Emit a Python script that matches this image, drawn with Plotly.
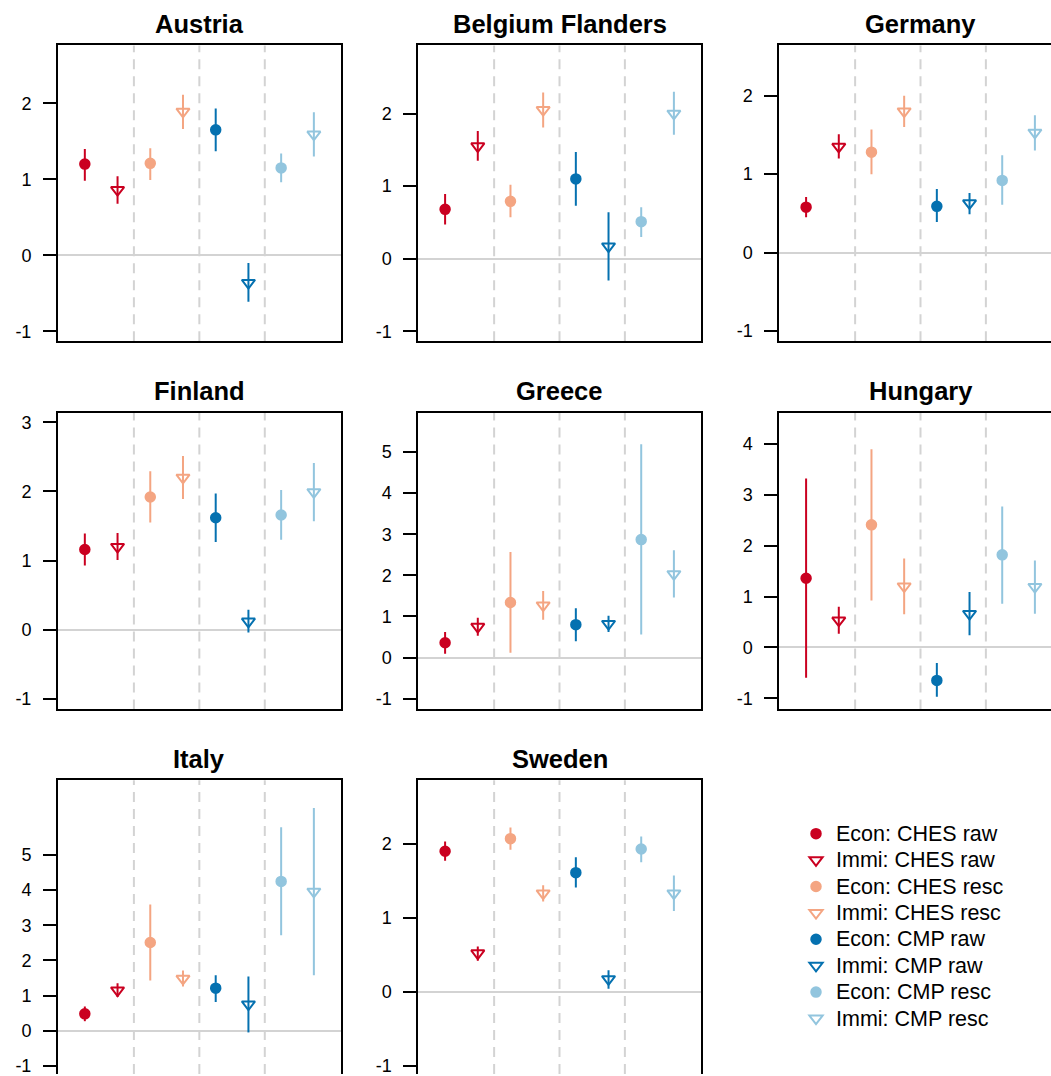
import plotly.graph_objects as go

# ---------------- data ----------------
countries = ["Austria", "Belgium Flanders", "Germany", "Finland", "Greece",
             "Hungary", "Italy", "Sweden"]
series_names = ["Econ: CHES raw", "Immi: CHES raw", "Econ: CHES resc", "Immi: CHES resc",
                "Econ: CMP raw", "Immi: CMP raw", "Econ: CMP resc", "Immi: CMP resc"]
series_pos = [1, 2, 3, 4, 5, 6, 7, 8]

austria_est = [1.20, 0.86, 1.21, 1.89, 1.65, -0.36, 1.15, 1.59]
austria_lo = [0.98, 0.68, 0.99, 1.66, 1.37, -0.61, 0.96, 1.30]
austria_hi = [1.40, 1.04, 1.41, 2.11, 1.93, -0.10, 1.34, 1.88]

belgium_est = [0.68, 1.55, 0.79, 2.05, 1.10, 0.17, 0.51, 2.00]
belgium_lo = [0.47, 1.35, 0.57, 1.81, 0.73, -0.30, 0.30, 1.71]
belgium_hi = [0.89, 1.76, 1.02, 2.29, 1.47, 0.64, 0.71, 2.30]

germany_est = [0.58, 1.35, 1.28, 1.80, 0.59, 0.63, 0.92, 1.53]
germany_lo = [0.45, 1.20, 1.00, 1.60, 0.39, 0.49, 0.61, 1.30]
germany_hi = [0.71, 1.51, 1.57, 2.00, 0.81, 0.76, 1.24, 1.75]

finland_est = [1.16, 1.20, 1.92, 2.20, 1.62, 0.12, 1.66, 1.99]
finland_lo = [0.93, 1.01, 1.55, 1.89, 1.27, -0.04, 1.30, 1.57]
finland_hi = [1.39, 1.40, 2.29, 2.51, 1.97, 0.29, 2.02, 2.41]

greece_est = [0.36, 0.75, 1.34, 1.27, 0.80, 0.82, 2.87, 2.03]
greece_lo = [0.09, 0.53, 0.12, 0.92, 0.40, 0.62, 0.56, 1.46]
greece_hi = [0.62, 0.97, 2.57, 1.62, 1.20, 1.02, 5.19, 2.61]

hungary_est = [1.36, 0.53, 2.41, 1.20, -0.65, 0.66, 1.82, 1.19]
hungary_lo = [-0.60, 0.27, 0.92, 0.65, -0.97, 0.24, 0.86, 0.66]
hungary_hi = [3.32, 0.80, 3.90, 1.75, -0.31, 1.09, 2.77, 1.71]

italy_est = [0.48, 1.15, 2.51, 1.48, 1.21, 0.75, 4.25, 3.96]
italy_lo = [0.27, 0.96, 1.43, 1.26, 0.82, -0.05, 2.72, 1.58]
italy_hi = [0.69, 1.35, 3.59, 1.71, 1.58, 1.54, 5.79, 6.34]

sweden_est = [1.90, 0.52, 2.07, 1.33, 1.61, 0.17, 1.93, 1.33]
sweden_lo = [1.77, 0.42, 1.92, 1.22, 1.41, 0.04, 1.75, 1.09]
sweden_hi = [2.03, 0.61, 2.22, 1.44, 1.82, 0.29, 2.10, 1.57]

y_ticks = [[-1, 0, 1, 2], [-1, 0, 1, 2], [-1, 0, 1, 2], [-1, 0, 1, 2, 3],
           [-1, 0, 1, 2, 3, 4, 5], [-1, 0, 1, 2, 3, 4], [-1, 0, 1, 2, 3, 4, 5],
           [-1, 0, 1, 2]]
separators = [2.5, 4.5, 6.5]

est_all = [austria_est, belgium_est, germany_est, finland_est, greece_est,
           hungary_est, italy_est, sweden_est]
lo_all = [austria_lo, belgium_lo, germany_lo, finland_lo, greece_lo,
          hungary_lo, italy_lo, sweden_lo]
hi_all = [austria_hi, belgium_hi, germany_hi, finland_hi, greece_hi,
          hungary_hi, italy_hi, sweden_hi]

# ---------------- styling / layout ----------------
W, H = 1051, 1076
FONT = "Liberation Sans, Arial, Helvetica, sans-serif"
colors = ["#CA0020", "#CA0020", "#F4A582", "#F4A582",
          "#0571B0", "#0571B0", "#92C5DE", "#92C5DE"]
symbols = ["circle", "triangle-down-open"] * 4
sizes = [9.5, 11.5] * 4

col_px = [(58.0, 340.7), (418.3, 700.7), (779.3, 1061.7)]
row_px = [(45.5, 342.0), (413.3, 710.7), (781.7, 1078.7)]
x_full = (0.18, 8.82)
# measured y-ranges (full box) for each panel
y_full = [(-1.13, 2.76), (-1.14, 2.94), (-1.13, 2.64), (-1.15, 3.14),
          (-1.26, 5.96), (-1.22, 4.62), (-1.31, 7.13), (-1.15, 2.86)]
title_cy = [24.2, 392.0, 760.0]

fig = go.Figure()
layout_upd = {}
shapes = []
annotations = []

for i, name in enumerate(countries):
    r, c = divmod(i, 3)
    ax = "" if i == 0 else str(i + 1)
    xa, ya = "x" + ax, "y" + ax
    x0p, x1p = col_px[c]
    y0p, y1p = row_px[r]
    # clip to page
    x1c = min(x1p, W)
    y1c = min(y1p, H)
    xr0, xr1 = x_full
    xr1c = xr0 + (xr1 - xr0) * (x1c - x0p) / (x1p - x0p)
    yr0, yr1 = y_full[i]
    yr0c = yr1 - (yr1 - yr0) * (y1c - y0p) / (y1p - y0p)

    xdom = [x0p / W, x1c / W]
    ydom = [1 - y1c / H, 1 - y0p / H]

    right_clipped = x1p > W
    bottom_clipped = y1p > H

    layout_upd["xaxis" + ax] = dict(
        domain=xdom, range=[xr0, xr1c], showticklabels=False, ticks="",
        showgrid=False, zeroline=False, showline=True, linecolor="black",
        linewidth=2, mirror=(not bottom_clipped), side="top" if bottom_clipped else "bottom",
        anchor=ya, fixedrange=True)
    layout_upd["yaxis" + ax] = dict(
        domain=ydom, range=[yr0c, yr1], tickmode="array", tickvals=y_ticks[i],
        ticktext=[str(v) for v in y_ticks[i]], ticks="outside", ticklen=13,
        tickwidth=2, tickcolor="black", ticklabelstandoff=8,
        ticklabeloverflow="allow",
        tickfont=dict(family=FONT, size=18, color="black"),
        showgrid=False, zeroline=True, zerolinecolor="#D3D3D3", zerolinewidth=2,
        showline=True, linecolor="black", linewidth=2, mirror=(not right_clipped),
        anchor=xa, fixedrange=True)

    for s in separators:
        shapes.append(dict(type="line", xref=xa, yref=ya + " domain", x0=s, x1=s,
                           y0=0, y1=1, layer="below",
                           line=dict(color="#D3D3D3", width=2, dash="10px,7px")))

    annotations.append(dict(text="<b>%s</b>" % name, xref="paper", yref="paper",
                            x=(x0p + x1p) / 2 / W, y=1 - title_cy[r] / H,
                            xanchor="center", yanchor="middle", showarrow=False,
                            font=dict(family=FONT, size=25.5, color="black")))

    est, lo, hi = est_all[i], lo_all[i], hi_all[i]
    for k in range(8):
        fig.add_trace(go.Scatter(
            x=[series_pos[k]], y=[est[k]], xaxis=xa, yaxis=ya, mode="markers",
            name='<span style="font-size:21.5px">%s</span>' % series_names[k],
            showlegend=(i == 0),
            marker=dict(symbol=symbols[k], size=sizes[k], color=colors[k],
                        line=dict(width=2, color=colors[k])),
            error_y=dict(type="data", symmetric=False, array=[hi[k] - est[k]],
                         arrayminus=[est[k] - lo[k]], color=colors[k],
                         thickness=2, width=0),
            hoverinfo="skip"))

fig.update_layout(
    width=W, height=H, margin=dict(l=0, r=0, t=0, b=0),
    paper_bgcolor="white", plot_bgcolor="white",
    font=dict(family=FONT, color="black"),
    shapes=shapes, annotations=annotations,
    legend=dict(x=796.0 / W, y=1 - 817.0 / H, xanchor="left", yanchor="top",
                font=dict(family=FONT, size=18, color="black"),
                bgcolor="rgba(0,0,0,0)", borderwidth=0, tracegroupgap=0),
    **layout_upd)

fig.write_html("out.html")
